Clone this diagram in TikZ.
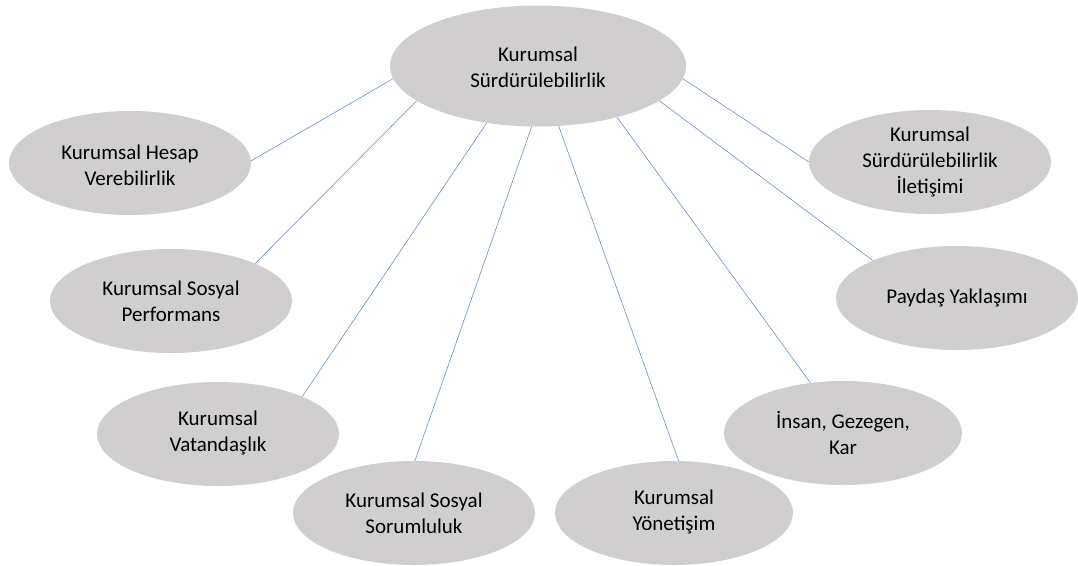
\documentclass[tikz,border=0pt]{standalone}
\usepackage{fontspec}
\setmainfont{Carlito}
\usetikzlibrary{shapes.geometric}
\definecolor{ellfill}{HTML}{D0CECE}
\definecolor{linkblue}{HTML}{4472C4}
\tikzset{
  blob/.style={ellipse, fill=ellfill, draw=none, inner sep=0pt, minimum width=242pt, minimum height=104pt},
  bigblob/.style={blob, minimum width=296pt, minimum height=121pt},
  lbl/.style={align=center, inner sep=0pt, font=\fontsize{21}{26}\selectfont, text=black},
  link/.style={draw=linkblue!85, line width=0.55pt}
}
\begin{document}
\begin{tikzpicture}[x=1pt, y=-1pt]
\useasboundingbox (0,0) rectangle (1078,565);
% ellipses
\node[bigblob] (c) at (538,66) {};
\node[blob] (hesap) at (130,163) {};
\node[blob] (perf) at (171,301) {};
\node[blob] (vat) at (218,434) {};
\node[blob] (sor) at (414,513) {};
\node[blob, minimum width=238pt] (yon) at (674,513) {};
\node[blob, minimum width=238pt] (insan) at (843,433) {};
\node[blob] (payd) at (957,298) {};
\node[blob] (ilet) at (930,162) {};
% texts
\node[lbl] (c-t) at (538,67) {Kurumsal\\Sürdürülebilirlik};
\node[lbl] (hesap-t) at (130,165) {Kurumsal Hesap\\Verebilirlik};
\node[lbl] (perf-t) at (171,301) {Kurumsal Sosyal\\Performans};
\node[lbl] (vat-t) at (218,433) {Kurumsal\\Vatandaşlık};
\node[lbl] (sor-t) at (414,513) {Kurumsal Sosyal\\Sorumluluk};
\node[lbl] (yon-t) at (674,512) {Kurumsal\\Yönetişim};
\node[lbl] (insan-t) at (843,433) {İnsan, Gezegen,\\Kar};
\node[lbl] (payd-t) at (957,298) {Paydaş Yaklaşımı};
\node[lbl] (ilet-t) at (930,162) {Kurumsal\\Sürdürülebilirlik\\İletişimi};
% connectors
\draw[link] (c.185.8) -- (hesap.1);
\draw[link] (c.196.4) -- (perf.24.4);
\draw[link] (c.228.2) -- (vat.24.1);
\draw[link] (c.264.4) -- (sor.89);
\draw[link] (c.289.3) -- (yon.85.4);
\draw[link] (c.327.7) -- (insan.123.7);
\draw[link] (c.344.5) -- (payd.156.5);
\draw[link] (c.355.5) -- (ilet.180);
\end{tikzpicture}
\end{document}
